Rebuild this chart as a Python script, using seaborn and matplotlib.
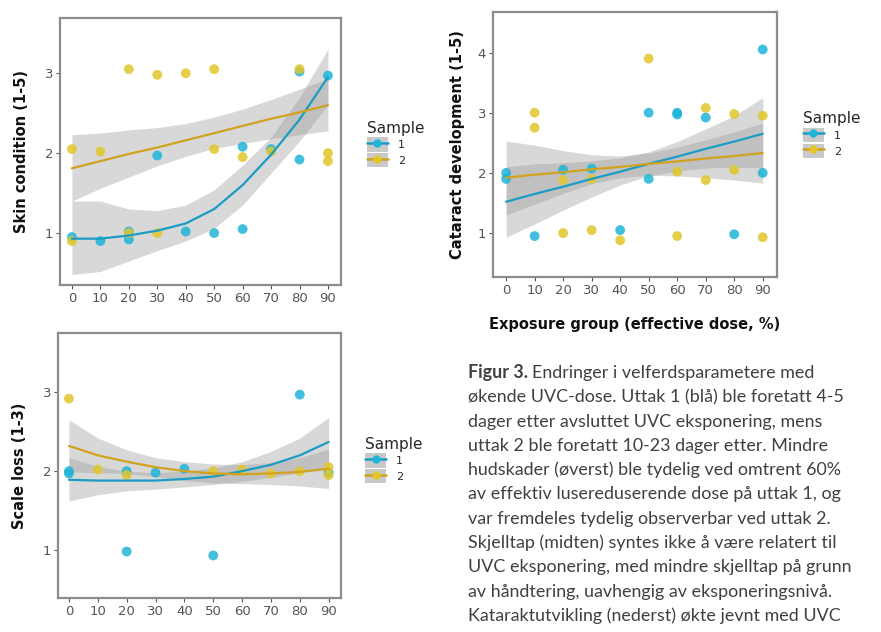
import matplotlib
matplotlib.use('Agg')
import matplotlib.pyplot as plt
from matplotlib.lines import Line2D
from matplotlib.patches import Patch
from matplotlib.legend_handler import HandlerTuple
import pandas as pd
import seaborn as sns

# exposure groups (effective dose, %)
dose = [0, 10, 20, 30, 40, 50, 60, 70, 80, 90]

# Skin condition, observed points (jittered as in the figure)
skin_x1 = [0, 10, 20, 20, 30, 40, 50, 60, 60, 70, 80, 80, 90]
skin_y1 = [0.95, 0.9, 0.92, 1.02, 1.97, 1.02, 1.0, 1.05, 2.08, 2.05, 1.92, 3.02, 2.97]
skin_x2 = [0, 0, 10, 20, 20, 30, 30, 40, 50, 50, 60, 70, 80, 90, 90]
skin_y2 = [2.05, 0.9, 2.02, 3.05, 1.0, 2.98, 1.0, 3.0, 3.05, 2.05, 1.95, 2.02, 3.05, 2.0, 1.9]
# Skin condition, fitted curves and confidence bands
skin_fit1 = [0.93, 0.93, 0.97, 1.03, 1.12, 1.3, 1.6, 1.98, 2.42, 2.95]
skin_lo1 = [0.48, 0.52, 0.65, 0.78, 0.9, 1.06, 1.35, 1.75, 2.15, 2.6]
skin_hi1 = [1.4, 1.4, 1.3, 1.28, 1.35, 1.54, 1.85, 2.2, 2.7, 3.3]
skin_fit2 = [1.81, 1.9, 1.99, 2.07, 2.16, 2.25, 2.34, 2.43, 2.51, 2.6]
skin_lo2 = [1.4, 1.56, 1.7, 1.84, 1.96, 2.06, 2.12, 2.18, 2.23, 2.28]
skin_hi2 = [2.23, 2.25, 2.29, 2.32, 2.37, 2.45, 2.55, 2.67, 2.8, 2.93]

# Scale loss
scale_x1 = [0, 0, 20, 20, 30, 40, 50, 80, 90]
scale_y1 = [1.97, 2.0, 0.98, 2.0, 1.98, 2.03, 0.93, 2.97, 1.98]
scale_x2 = [0, 10, 20, 50, 60, 70, 80, 90, 90]
scale_y2 = [2.92, 2.02, 1.95, 2.0, 2.02, 1.97, 2.0, 2.05, 1.95]
scale_fit1 = [1.89, 1.88, 1.88, 1.88, 1.9, 1.93, 2.0, 2.08, 2.2, 2.37]
scale_lo1 = [1.62, 1.7, 1.75, 1.77, 1.8, 1.83, 1.87, 1.92, 1.98, 2.05]
scale_hi1 = [2.17, 2.06, 2.0, 1.98, 2.0, 2.04, 2.12, 2.25, 2.42, 2.68]
scale_fit2 = [2.32, 2.2, 2.12, 2.05, 2.0, 1.97, 1.96, 1.97, 1.99, 2.03]
scale_lo2 = [1.99, 1.98, 1.97, 1.93, 1.88, 1.85, 1.84, 1.83, 1.81, 1.78]
scale_hi2 = [2.65, 2.42, 2.27, 2.17, 2.12, 2.09, 2.08, 2.11, 2.17, 2.28]

# Cataract development
cat_x1 = [0, 0, 10, 20, 30, 40, 50, 50, 60, 60, 70, 80, 90, 90]
cat_y1 = [1.9, 2.0, 0.95, 2.05, 2.07, 1.05, 3.0, 1.9, 3.0, 2.97, 2.92, 0.98, 4.05, 2.0]
cat_x2 = [10, 10, 20, 20, 30, 30, 40, 50, 60, 60, 70, 70, 80, 80, 90, 90]
cat_y2 = [3.0, 2.75, 1.88, 1.0, 1.9, 1.05, 0.88, 3.9, 2.02, 0.95, 3.08, 1.88, 2.05, 2.98, 2.95, 0.93]
cat_fit1 = [1.52, 1.65, 1.77, 1.9, 2.02, 2.15, 2.27, 2.4, 2.52, 2.65]
cat_lo1 = [0.93, 1.15, 1.38, 1.6, 1.8, 1.95, 2.03, 2.08, 2.1, 2.08]
cat_hi1 = [2.1, 2.15, 2.17, 2.2, 2.25, 2.35, 2.52, 2.73, 2.95, 3.25]
cat_fit2 = [1.92, 1.97, 2.01, 2.06, 2.1, 2.15, 2.19, 2.24, 2.28, 2.33]
cat_lo2 = [1.3, 1.48, 1.66, 1.82, 1.92, 1.96, 1.95, 1.92, 1.88, 1.83]
cat_hi2 = [2.53, 2.46, 2.37, 2.3, 2.28, 2.33, 2.43, 2.55, 2.68, 2.83]

caption = [
    "økende UVC-dose. Uttak 1 (blå) ble foretatt 4-5",
    "dager etter avsluttet UVC eksponering, mens",
    "uttak 2 ble foretatt 10-23 dager etter. Mindre",
    "hudskader (øverst) ble tydelig ved omtrent 60%",
    "av effektiv lusereduserende dose på uttak 1, og",
    "var fremdeles tydelig observerbar ved uttak 2.",
    "Skjelltap (midten) syntes ikke å være relatert til",
    "UVC eksponering, med mindre skjelltap på grunn",
    "av håndtering, uavhengig av eksponeringsnivå.",
    "Kataraktutvikling (nederst) økte jevnt med UVC",
    "dose.",
]

pt1, pt2 = '#1fb4d8', '#e2c62a'
ln1, ln2 = '#1a9cc4', '#d2a21e'

sns.set_theme(style='white')
plt.rcParams['font.family'] = ['DejaVu Sans']

fig = plt.figure(figsize=(8.81, 6.32), dpi=100)


def panel(rect, xlim, ylim, yticks, ylabel, pts, fits, ylab_x):
    ax = fig.add_axes(rect)
    for (lo, hi) in [(f[1], f[2]) for f in fits]:
        ax.fill_between(dose, lo, hi, color='#9a9a9a', alpha=0.38, lw=0)
    for (x, y), c in zip(pts, [pt1, pt2]):
        sns.scatterplot(x=x, y=y, ax=ax, color=c, s=50, alpha=0.85,
                        edgecolor='none', legend=False)
    for f, c in zip(fits, [ln1, ln2]):
        sns.lineplot(x=dose, y=f[0], ax=ax, color=c, lw=1.6, legend=False)
    ax.set_xlim(*xlim)
    ax.set_ylim(*ylim)
    ax.set_xticks(dose)
    ax.set_yticks(yticks)
    ax.tick_params(axis='both', which='both', length=3, width=0.8,
                   color='#555555', labelcolor='#555555', labelsize=9.5,
                   bottom=True, left=True, pad=2)
    for s in ax.spines.values():
        s.set_color('#8c8c8c')
        s.set_linewidth(1.6)
    ax.grid(False)
    ax.set_xlabel('')
    ax.set_ylabel(ylabel, fontsize=10.5, fontweight='bold', color='#111111')
    ax.yaxis.set_label_coords(ylab_x, 0.5)
    return ax


def add_legend(x, y):
    handles = [(Patch(facecolor='#c9c9c9', edgecolor='none'),
                Line2D([], [], color=l, lw=1.8, marker='o', ms=6, mfc=p, mec='none'))
               for l, p in [(ln1, pt1), (ln2, pt2)]]
    fig.legend(handles, ['1', '2'], title='Sample', loc='upper left',
               bbox_to_anchor=(x, y), frameon=False, fontsize=8,
               title_fontsize=11, handlelength=1.9, handleheight=1.6,
               handletextpad=0.9, labelspacing=0.15, alignment='left',
               handler_map={tuple: HandlerTuple(ndivide=1)})


panel([0.0681, 0.549, 0.319, 0.4225], (-4.2, 94.6), (0.35, 3.69), [1, 2, 3],
      'Skin condition (1-5)',
      [(skin_x1, skin_y1), (skin_x2, skin_y2)],
      [(skin_fit1, skin_lo1, skin_hi1), (skin_fit2, skin_lo2, skin_hi2)], -0.11)
add_legend(0.405, 0.825)

panel([0.0658, 0.0538, 0.321, 0.419], (-3.8, 94.2), (0.39, 3.75), [1, 2, 3],
      'Scale loss (1-3)',
      [(scale_x1, scale_y1), (scale_x2, scale_y2)],
      [(scale_fit1, scale_lo1, scale_hi1), (scale_fit2, scale_lo2, scale_hi2)], -0.11)
add_legend(0.403, 0.325)

ax3 = panel([0.5596, 0.5617, 0.322, 0.419], (-4.6, 94.9), (0.27, 4.67), [1, 2, 3, 4],
            'Cataract development (1-5)',
            [(cat_x1, cat_y1), (cat_x2, cat_y2)],
            [(cat_fit1, cat_lo1, cat_hi1), (cat_fit2, cat_lo2, cat_hi2)], -0.1)
ax3.set_xlabel('Exposure group (effective dose, %)', fontsize=10.5,
               fontweight='bold', color='#111111')
ax3.xaxis.set_label_coords(0.5, -0.15)
add_legend(0.9, 0.84)

# caption
cap_x = 468 / 881
base0 = 378
step = 24.3
cap_font = dict(family=['Lato', 'DejaVu Sans'], fontsize=12.9, color='#404040')
t = fig.text(cap_x, 1 - base0 / 632, 'Figur 3.', fontweight='bold', va='baseline',
             **cap_font)
r = fig.canvas.get_renderer()
bb = t.get_window_extent(renderer=r)
fig.text((bb.x1 + 4) / fig.bbox.width, 1 - base0 / 632,
         'Endringer i velferdsparametere med', va='baseline', fontweight='normal',
         **cap_font)
for i, line in enumerate(caption):
    fig.text(cap_x, 1 - (base0 + step * (i + 1)) / 632, line, va='baseline',
             fontweight='normal', **cap_font)

fig.savefig('out.png', dpi=100)
